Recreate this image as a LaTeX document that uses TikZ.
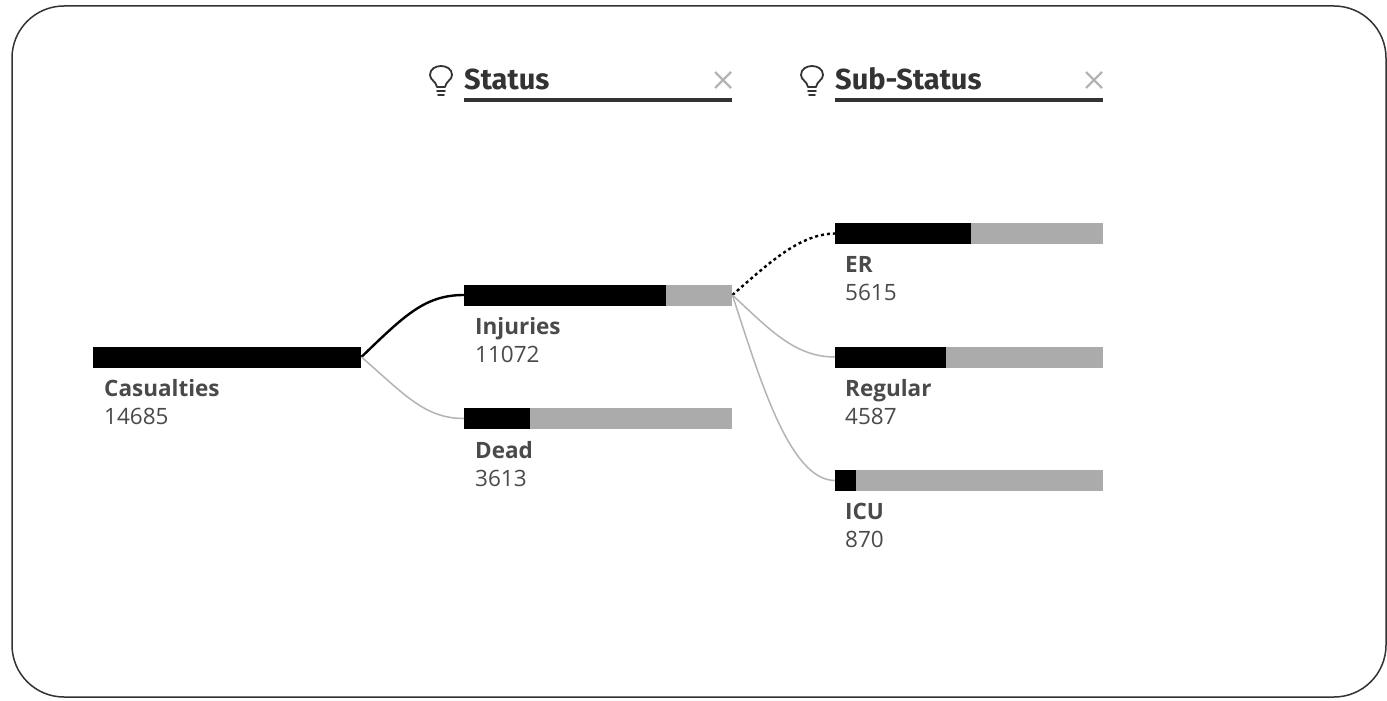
\documentclass[tikz,border=0pt]{standalone}
\usepackage{fontspec}
\setmainfont{Open Sans}
\newfontfamily\headfont{Fira Sans}
\definecolor{labelgray}{HTML}{4A4A4A}
\definecolor{trackgray}{HTML}{ABABAB}
\definecolor{linkgray}{HTML}{B4B4B4}
\definecolor{headdark}{HTML}{333333}
\tikzset{
  track/.style={fill=trackgray,draw=none,inner sep=0pt,minimum height=21,minimum width=268,anchor=west},
  fillbar/.style={fill=black,draw=none,inner sep=0pt,minimum height=21,anchor=west},
  lbl/.style={anchor=north west,inner sep=0pt,align=left,text=labelgray,font=\fontsize{22.5}{28.5}\selectfont},
  head/.style={anchor=base west,inner sep=0pt,text=headdark,font=\headfont\bfseries\fontsize{29}{30}\selectfont},
  link/.style={draw=linkgray,line width=1.5},
  linkon/.style={draw=black,line width=2.4},
  linkdot/.style={draw=black,line width=2.4,dash pattern=on 3 off 3},
  rule/.style={draw=headdark,line width=3.6},
  closex/.style={draw=linkgray,line width=2.2},
  bulb/.style={draw=headdark,line width=1.8,line cap=round,line join=round}
}
\begin{document}
\begin{tikzpicture}[x=1pt,y=-1pt]
\useasboundingbox (0,0) rectangle (1387,701);
\fill[white] (0,0) rectangle (1387,701);
\draw[draw=headdark,line width=1.5,rounded corners=52] (12,6) rectangle (1386,697);

% headers
\node[head] (hstatus) at (464,89) {Status};
\node[head] (hsub) at (835,89) {Sub-Status};
\coordinate (r1a) at (464,100); \coordinate (r1b) at (732,100);
\coordinate (r2a) at (835,100); \coordinate (r2b) at (1103,100);
\draw[rule] (r1a) -- (r1b);
\draw[rule] (r2a) -- (r2b);

% close marks
\foreach \c in {723,1094}{
  \draw[closex] (\c-8,72) -- (\c+8,88);
  \draw[closex] (\c+8,72) -- (\c-8,88);
}
% bulbs
\foreach \c in {441,812}{
  \draw[bulb] (\c-4,87) .. controls (\c-5,81) and (\c-11,80) .. (\c-11,75)
     .. controls (\c-11,63) and (\c+11,63) .. (\c+11,75)
     .. controls (\c+11,80) and (\c+5,81) .. (\c+4,87) -- cycle;
  \draw[bulb] (\c-4,91) -- (\c+4,91);
  \draw[bulb] (\c-3,95) -- (\c+3,95);
}

% bars
\node[fillbar,minimum width=268] (cas) at (93,357) {};
\node[track] (inj) at (464,295) {};
\node[fillbar,minimum width=202] at (464,295) {};
\node[track] (dead) at (464,418.5) {};
\node[fillbar,minimum width=66] at (464,418.5) {};
\node[track] (er) at (835,233.5) {};
\node[fillbar,minimum width=136] at (835,233.5) {};
\node[track] (reg) at (835,357) {};
\node[fillbar,minimum width=111] at (835,357) {};
\node[track] (icu) at (835,480.5) {};
\node[fillbar,minimum width=21] at (835,480.5) {};

% connectors
\draw[linkon] (cas.east) .. controls (405,315) and (425,295) .. (inj.west);
\draw[link] (cas.east) .. controls (405,395) and (425,418.5) .. (dead.west);
\draw[linkdot] (inj.east) .. controls (770,262) and (800,234) .. (er.west);
\draw[link] (inj.east) .. controls (770,330) and (795,357) .. (reg.west);
\draw[link] (inj.east) .. controls (760,380) and (790,480.5) .. (icu.west);

% labels
\node[lbl] (lcas) at (104,379) {\textbf{Casualties}\\14685};
\node[lbl] (linj) at (475,317) {\textbf{Injuries}\\11072};
\node[lbl] (ldead) at (475,441) {\textbf{Dead}\\3613};
\node[lbl] (ler) at (845,256) {\textbf{ER}\\5615};
\node[lbl] (lreg) at (845,379) {\textbf{Regular}\\4587};
\node[lbl] (licu) at (845,503) {\textbf{ICU}\\870};
\end{tikzpicture}
\end{document}
